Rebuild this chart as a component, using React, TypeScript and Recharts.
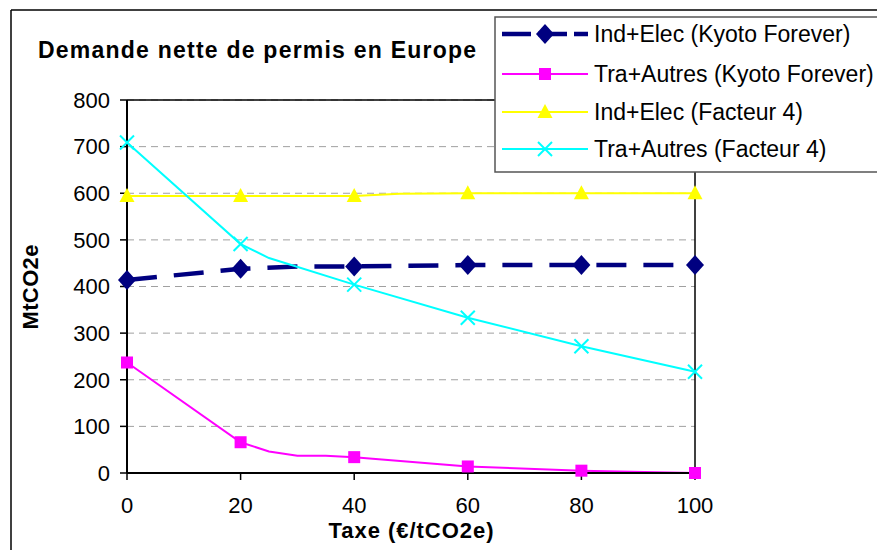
import React from 'react';
import { LineChart, Line, XAxis, YAxis, CartesianGrid, ReferenceLine, Legend } from 'recharts';

// taxe (€/tCO2e) -> demande (MtCO2e)
const indElecKyoto = [
  { x: 0, y: 414 }, { x: 20, y: 438 }, { x: 30, y: 443 }, { x: 40, y: 443 },
  { x: 60, y: 446 }, { x: 80, y: 446 }, { x: 100, y: 446 },
];
const traAutresKyoto = [
  { x: 0, y: 237 }, { x: 20, y: 66 }, { x: 25, y: 46 }, { x: 30, y: 37 }, { x: 35, y: 37 },
  { x: 40, y: 34 }, { x: 60, y: 14 }, { x: 80, y: 5 }, { x: 100, y: 0 },
];
const indElecF4 = [
  { x: 0, y: 594 }, { x: 20, y: 594 }, { x: 40, y: 594 }, { x: 48, y: 599 },
  { x: 60, y: 600 }, { x: 80, y: 600 }, { x: 100, y: 600 },
];
const traAutresF4 = [
  { x: 0, y: 709 }, { x: 20, y: 491 }, { x: 25, y: 461 }, { x: 40, y: 404 },
  { x: 60, y: 333 }, { x: 80, y: 272 }, { x: 100, y: 217 },
];

const xTicks = [0, 20, 40, 60, 80, 100];
const yTicks = [0, 100, 200, 300, 400, 500, 600, 700, 800];

const series = [
  { name: 'Ind+Elec (Kyoto Forever)', data: indElecKyoto, color: '#000080', width: 4.5, dash: '30 17', shape: 'diamond' },
  { name: 'Tra+Autres (Kyoto Forever)', data: traAutresKyoto, color: '#FF00FF', width: 2, dash: undefined, shape: 'square' },
  { name: 'Ind+Elec (Facteur 4)', data: indElecF4, color: '#FFFF00', width: 2, dash: undefined, shape: 'triangle' },
  { name: 'Tra+Autres (Facteur 4)', data: traAutresF4, color: '#00FFFF', width: 2, dash: undefined, shape: 'x' },
];

const FONT = '"Liberation Sans", Arial, sans-serif';

function Marker({ shape, cx, cy, color }: { shape: string; cx: number; cy: number; color: string }) {
  if (shape === 'diamond') {
    return <polygon points={`${cx},${cy - 10} ${cx + 9},${cy} ${cx},${cy + 10} ${cx - 9},${cy}`} fill={color} />;
  }
  if (shape === 'square') {
    return <rect x={cx - 6} y={cy - 6} width={12} height={12} fill={color} />;
  }
  if (shape === 'triangle') {
    return <polygon points={`${cx},${cy - 8} ${cx + 7.5},${cy + 6} ${cx - 7.5},${cy + 6}`} fill={color} />;
  }
  return (
    <g stroke={color} strokeWidth={2}>
      <line x1={cx - 7} y1={cy - 7} x2={cx + 7} y2={cy + 7} />
      <line x1={cx - 7} y1={cy + 7} x2={cx + 7} y2={cy - 7} />
    </g>
  );
}

function makeDot(shape: string, color: string, name: string) {
  return (props: any) => {
    const { cx, cy, payload, index } = props;
    if (payload.x % 20 !== 0 || cx == null || cy == null) return <g key={`${name}-${index}`} />;
    return (
      <g key={`${name}-${index}`}>
        <Marker shape={shape} cx={cx} cy={cy} color={color} />
      </g>
    );
  };
}

function LegendBox() {
  const rows = [18, 58, 96, 133];
  return (
    <svg width={400} height={160}>
      <rect x={1} y={1} width={420} height={155} fill="#fff" stroke="#555" strokeWidth={1.5} />
      {series.map((s, i) => (
        <g key={s.name}>
          <line x1={8} y1={rows[i]} x2={94} y2={rows[i]} stroke={s.color} strokeWidth={s.width} strokeDasharray={s.dash ? '29 7' : undefined} />
          <Marker shape={s.shape} cx={51} cy={rows[i]} color={s.color} />
          <text x={100} y={rows[i] + 8} fontSize={23} fontFamily={FONT} fill="#000">{s.name}</text>
        </g>
      ))}
    </svg>
  );
}

export default function App() {
  return (
    <div style={{ position: 'absolute', left: 0, top: 0, width: 877, height: 550, overflow: 'hidden', background: '#fff' }}>
      <LineChart width={877} height={550} margin={{ top: 100, right: 182, bottom: 37, left: 67 }}>
        <CartesianGrid vertical={false} stroke="#a0a0a0" strokeDasharray="7 5" />
        <XAxis
          type="number"
          dataKey="x"
          domain={[0, 100]}
          ticks={xTicks}
          height={40}
          axisLine={{ stroke: '#000', strokeWidth: 2 }}
          tickLine={{ stroke: '#000', strokeWidth: 1.5 }}
          tickSize={7}
          tickMargin={17}
          tick={{ fontSize: 22, fontFamily: FONT, fill: '#000' }}
        />
        <YAxis
          type="number"
          domain={[0, 800]}
          ticks={yTicks}
          width={60}
          axisLine={{ stroke: '#000', strokeWidth: 2 }}
          tickLine={{ stroke: '#000', strokeWidth: 1.5 }}
          tickSize={7}
          tickMargin={10}
          tick={{ fontSize: 22, fontFamily: FONT, fill: '#000' }}
        />
        <ReferenceLine y={800} stroke="#000" strokeWidth={1.5} />
        <ReferenceLine x={100} stroke="#000" strokeWidth={1.5} />
        {series.map(s => (
          <Line
            key={s.name}
            data={s.data}
            dataKey="y"
            name={s.name}
            type="linear"
            stroke={s.color}
            strokeWidth={s.width}
            strokeDasharray={s.dash}
            dot={makeDot(s.shape, s.color, s.name)}
            activeDot={false}
            isAnimationActive={false}
          />
        ))}
        <Legend
          layout="vertical"
          align="center"
          verticalAlign="middle"
          content={() => <LegendBox />}
          wrapperStyle={{ position: 'absolute', left: 494, top: 16, width: 400, height: 160 }}
        />
      </LineChart>
      <svg width={877} height={550} style={{ position: 'absolute', left: 0, top: 0, pointerEvents: 'none' }}>
        <line x1={11} y1={10} x2={877} y2={10} stroke="#000" strokeWidth={1.5} />
        <line x1={11} y1={10} x2={11} y2={550} stroke="#000" strokeWidth={1.5} />
        <text x={38} y={58} fontSize={23} fontWeight="bold" fontFamily={FONT} textLength={438} lengthAdjust="spacing">
          Demande nette de permis en Europe
        </text>
        <text x={411} y={538} fontSize={22} fontWeight="bold" fontFamily={FONT} textAnchor="middle" textLength={165} lengthAdjust="spacing">
          Taxe (€/tCO2e)
        </text>
        <text x={38} y={287} fontSize={22} fontWeight="bold" fontFamily={FONT} textAnchor="middle" transform="rotate(-90, 38, 287)" textLength={85} lengthAdjust="spacing">
          MtCO2e
        </text>
      </svg>
    </div>
  );
}
